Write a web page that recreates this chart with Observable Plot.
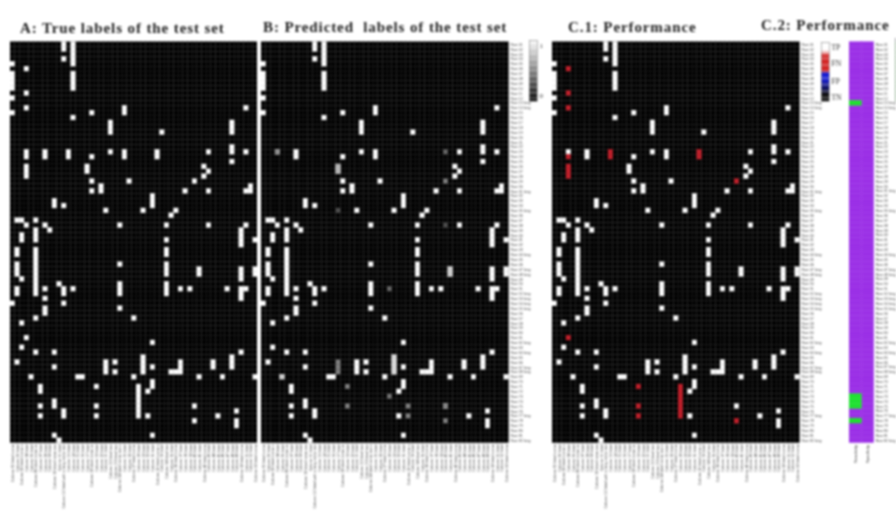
<!DOCTYPE html>
<html>
<head>
<meta charset="utf-8">
<script src="https://cdn.jsdelivr.net/npm/d3@7"></script>
<script src="https://cdn.jsdelivr.net/npm/@observablehq/plot@0.6"></script>
<style>
html,body{margin:0;padding:0;background:#fff;overflow:hidden}
#page{position:relative;width:896px;height:512px;overflow:hidden;filter:blur(.8px)}
#page svg{position:absolute;top:0;background:none;font-family:"Liberation Sans",sans-serif}
.title{position:absolute;white-space:pre;font:bold 15px "Liberation Serif",serif;letter-spacing:.9px;color:#222}
</style>
</head>
<body>
<div id="page"></div>
<script>
const rowLabels = ["Row 01","Row 02","Row 03","Row 04","Row 05","Row 06","Row 07","Row 08","Row 09","Row 10",
"Row 11","Row 12","Row 13 long","Row 14 long","Row 15","Row 16","Row 17","Row 18","Row 19","Row 20",
"Row 21","Row 22","Row 23","Row 24","Row 25","Row 26","Row 27","Row 28","Row 29","Row 30",
"Row 31 long","Row 32","Row 33","Row 34","Row 35 long","Row 36","Row 37","Row 38","Row 39","Row 40",
"Row 41","Row 42","Row 43","Row 44 long","Row 45","Row 46","Row 47 long","Row 48 long","Row 49","Row 50",
"Row 51","Row 52 long","Row 53 long","Row 54 long","Row 55 long","Row 56","Row 57","Row 58","Row 59","Row 60",
"Row 61","Row 62 long","Row 63","Row 64 long","Row 65","Row 66","Row 67 long","Row 68 long","Row 69","Row 70",
"Row 71","Row 72","Row 73","Row 74","Row 75","Row 76","Row 77 long","Row 78","Row 79","Row 80",
"Row 81","Row 82 long"];
const columnLabels = ["Column 01 label name","Column 02 label","Column 03 label name x","Column 04 label","Column 05 label",
"Column 06 label name xx","Column 07 label","Column 08 label","Column 09 label","Column 10 label name xxx",
"Column 11 label","Column 12 label with a long name text","Column 13 label","Column 14 label","Column 15 label",
"Column 16 label","Column 17 label","Column 18 label name xx","Column 19 label","Column 20 label",
"Column 21 label","Column 22 label text","Column 23 label text","Column 24 label name text x","Column 25 label",
"Column 26 label","Column 27 label name","Column 28 label","Column 29 label","Column 30 label",
"Column 31 label","Column 32 label name x","Column 33 label","Column 34 label text","Column 35 label",
"Column 36 label name","Column 37 label","Column 38 label","Column 39 label","Column 40 label",
"Column 41 label","Column 42 label name","Column 43 label","Column 44 label","Column 45 label",
"Column 46 label","Column 47 label","Column 48 label","Column 49 label","Column 50 label name",
"Column 51 label","Column 52 label","Column 53 label name"];
const metricLabels = ["Sensitivity","Specificity"];

// [column index, row indices of positive labels]
const trueLabels = [
[0,[4,6,7,8,9,11,14,53]],[1,[36,42,43,45,46,47,50,51,65]],[2,[36,39,40,48,57,62]],
[3,[5,10,13,22,23,25,26,27,37,60]],[4,[68]],[5,[36,38,39,40,42,43,44,45,46,47,48,49,50,51,56,63]],
[6,[70,71,74,76]],[7,[22,23,37,50,52,54,55]],[8,[38]],[9,[32,33,63,66,73,74,80]],[10,[49,81]],
[11,[0,1,3,33,50,51,53,75,76]],[12,[22,23]],[13,[0,1,2,3,4,6,7,8,9,15,50]],[14,[68]],[15,[68]],
[16,[25,26]],[17,[14,23,28,30]],[18,[70,74,76]],[19,[29,30]],[20,[34,65,66,67]],[21,[16,17,18,22]],
[22,[65,67]],[23,[37,45,49,50,51,54]],[24,[13,14,22,23]],[25,[28]],[26,[56,68]],[27,[70,71,72,73,74,75,76]],
[28,[34,64,65,66,67]],[29,[71,76]],[30,[31,32,33,61,66,69,70,80]],[31,[22,23]],[32,[18]],
[33,[37,40,42,43,45,46,47,49,50,51]],[34,[35,67]],[35,[34,67]],[36,[50,65,66,67]],[37,[30]],[38,[50]],
[39,[28,74,77]],[40,[46,47,68]],[41,[25,27]],[42,[22,26,30,37]],[43,[65,66]],[44,[76]],[45,[68]],[46,[50]],
[47,[16,17,18,21,22,24,64,65,66]],[48,[75,77,78]],[49,[38,39,40,41,46,47,48,50,51,52,63]],
[50,[13,22,30,37,50]],[51,[29,30]],[52,[40,46,47,68]]];

// true labels the model missed: [column index, row indices]
const falseNegatives = [[3,[5,10,13,23,25,26,27,60]],[12,[22,23]],[18,[70,74,76]],
[27,[70,71,72,73,74,75,76]],[31,[22,23]],[39,[28,77]]];

// predicted scores between 0 and 1: [column, row, score]
const partialScores = [[3,22,.55],[39,22,.4],[39,28,.5],[16,25,.7],[16,26,.7],[16,34,.3],[39,37,.3],
[27,50,.4],[16,65,.5],[16,66,.5],[16,67,.5],[18,70,.5],[18,74,.5],[27,72,.45],[31,74,.5],[31,76,.5],
[39,74,.5],[39,77,.5],[40,46,.8],[40,47,.8],[4,68,.8],[28,64,.85],[28,65,.85],[28,66,.85],[28,67,.85]];

// rows where the sensitivity column falls below 1
const lowSensitivityRows = [12,72,73,74,77];

const legendClasses = ["TN","FP","FN","TP"];
const legendClassAt = [.07,.33,.64,.92];
const legendScaleAt = [.1,.92];
const legendScaleText = ["0","1"];
const legendLevels = d3.range(0,1,.02);

const page = document.getElementById("page");
const PLOT_TOP = 41.7, PLOT_BOTTOM = 442.7, H = 512;
const flat = list => list.flatMap(([c,rows]) => rows.map(r => [c,r]));
const key = (c,r) => c + "/" + r;
const allCells = rowLabels.flatMap(row => columnLabels.map(col => ({row,col})));
const fn = new Set(flat(falseNegatives).map(([c,r]) => key(c,r)));
const pick = ([c,r]) => ({col:columnLabels[c], row:rowLabels[r], c, r});

function put(plot,left){ plot.style.left = left+"px"; page.appendChild(plot); }
function addTitle(text,left,top){
  const d = document.createElement("div"); d.className="title"; d.textContent=text;
  d.style.left=left+"px"; d.style.top=top+"px"; page.appendChild(d);
}

function heat({left,width,marks,color,rowAxis}){
  const right = rowAxis ? 30 : 0;
  const plot = Plot.plot({
    width: width+right, height: H,
    marginLeft:0, marginRight:right, marginTop:PLOT_TOP, marginBottom:H-PLOT_BOTTOM,
    x:{domain:columnLabels,padding:0,round:false,axis:null},
    y:{domain:rowLabels,padding:0,round:false,axis:null},
    color,
    marks:[
      Plot.cell(allCells,{x:"col",y:"row",fill:"#000",stroke:"#202020",strokeWidth:.35}),
      ...marks,
      Plot.axisX({anchor:"bottom",tickSize:0,tickPadding:1,tickRotate:-90,fontSize:3.8,fill:"#3c3c3c",label:null}),
      ...(rowAxis?[Plot.axisY({anchor:"right",tickSize:0,tickPadding:1.5,fontSize:3.6,fill:"#444",label:null})]:[])
    ]
  });
  put(plot,left);
}

// A: true labels
heat({left:9.5,width:247.5,
  color:{type:"linear",domain:[0,1],range:["#000","#fff"]},
  marks:[Plot.cell(flat(trueLabels).map(pick),{x:"col",y:"row",fill:()=>1,stroke:"#fff",strokeWidth:.3})]});

// B: predicted labels
const predicted = flat(trueLabels).filter(([c,r])=>!fn.has(key(c,r))).map(p=>({...pick(p),v:1}));
const partial = partialScores.map(([c,r,v])=>({...pick([c,r]),v}));
heat({left:261,width:247.5,rowAxis:true,
  color:{type:"linear",domain:[0,1],range:["#000","#fff"]},
  marks:[
    Plot.cell(predicted,{x:"col",y:"row",fill:"v",stroke:"#fff",strokeWidth:.3}),
    Plot.cell(partial,{x:"col",y:"row",fill:"v"})
  ]});

// C.1: performance classes
const perf = flat(trueLabels).map(p=>({...pick(p),cls:fn.has(key(p[0],p[1]))?"FN":"TP"}));
heat({left:551.7,width:247.5,rowAxis:true,
  color:{type:"ordinal",domain:legendClasses,range:["#000","#1010d0","#c2202b","#fff"]},
  marks:[Plot.cell(perf,{x:"col",y:"row",fill:"cls",stroke:"cls",strokeWidth:.3})]});

// C.2: per-row metrics
const low = new Set(lowSensitivityRows);
const metricCells = rowLabels.flatMap((row,i)=>metricLabels.map((m,j)=>({row,m,s:(j===0&&low.has(i))?"low":"high"})));
put(Plot.plot({
  width:24.7+22, height:H, marginLeft:0, marginRight:22, marginTop:PLOT_TOP, marginBottom:H-PLOT_BOTTOM,
  x:{domain:metricLabels,padding:0,round:false,axis:null},
  y:{domain:rowLabels,padding:0,round:false,axis:null},
  color:{type:"ordinal",domain:["high","low"],range:["#9b30e6","#1fe030"]},
  marks:[
    Plot.cell(metricCells.filter(d=>d.s==="high"),{x:"m",y:"row",fill:"s",stroke:"s",strokeWidth:.4}),
    Plot.cell(metricCells.filter(d=>d.s==="low"),{x:"m",y:"row",fill:"s",stroke:"s",strokeWidth:.4}),
    Plot.axisX({anchor:"bottom",tickSize:0,tickPadding:2,tickRotate:-90,fontSize:4,fill:"#333",label:null}),
    Plot.axisY({anchor:"right",tickSize:0,tickPadding:1.5,fontSize:3.6,fill:"#444",label:null})
  ]
}),849.3);

// colour keys
function legend({left,top,color,ticks,format,fontSize}){
  put(Plot.plot({
    width:8+22,height:H,marginLeft:0,marginRight:22,marginTop:top,marginBottom:H-101,
    x:{domain:[0,1],axis:null},
    y:{domain:[0,1],axis:null},
    color,
    marks:[
      Plot.rect(legendLevels,{x1:0,x2:1,y1:d=>d,y2:d=>d+.02,fill:d=>d}),
      Plot.frame({stroke:"#888",strokeWidth:.6}),
      Plot.axisY({anchor:"right",ticks,tickFormat:format,tickSize:0,tickPadding:2,fontSize,fill:"#333",label:null,fontFamily:"Liberation Serif"})
    ]
  }),left);
}
legend({left:529,top:40,color:{type:"linear",domain:[0,1],range:["#000","#fff"]},ticks:legendScaleAt,format:d=>legendScaleText[legendScaleAt.indexOf(d)],fontSize:7});
legend({left:821,top:42,
  color:{type:"linear",domain:[0,.1,.36,.47,.5,.75,.86,1],range:["#000","#000","#0a10d0","#0a10d0","#d01818","#d01818","#fff","#fff"]},
  ticks:legendClassAt,format:d=>legendClasses[legendClassAt.indexOf(d)],fontSize:7.5});
// edge of a further colour key, cut off by the image border
legend({left:894.5,top:38,color:{type:"linear",domain:[0,.9,1],range:["#8fe88f","#8fe88f","#c99af0"]},ticks:[],format:d=>d,fontSize:6});

addTitle("A: True labels of the test set",20,20);
addTitle("B: Predicted  labels of the test set",263,19);
addTitle("C.1: Performance",568,19);
addTitle("C.2: Performance",761,17);
</script>
</body>
</html>
